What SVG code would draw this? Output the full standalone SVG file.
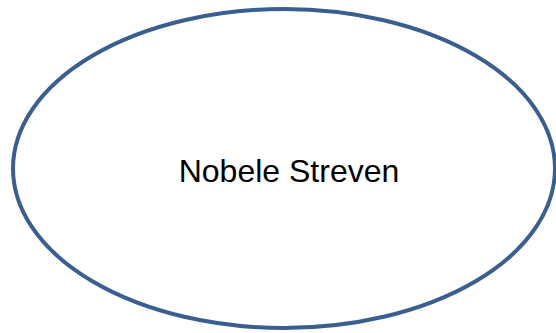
<svg xmlns="http://www.w3.org/2000/svg" width="556" height="333" viewBox="0 0 556 333">
<style>
.shape{fill:#ffffff;stroke:#3A5F8F;stroke-width:4}
.label{font-family:"Liberation Sans",Arial,sans-serif;font-size:32px;fill:#000000;text-anchor:middle}
</style>
<rect width="556" height="333" fill="#ffffff"/>
<g id="node-nobele-streven">
<ellipse class="shape" cx="284" cy="168.5" rx="271" ry="159.5"/>
<text class="label" x="289" y="182">Nobele Streven</text>
</g>
<g id="connectors"></g>
</svg>
